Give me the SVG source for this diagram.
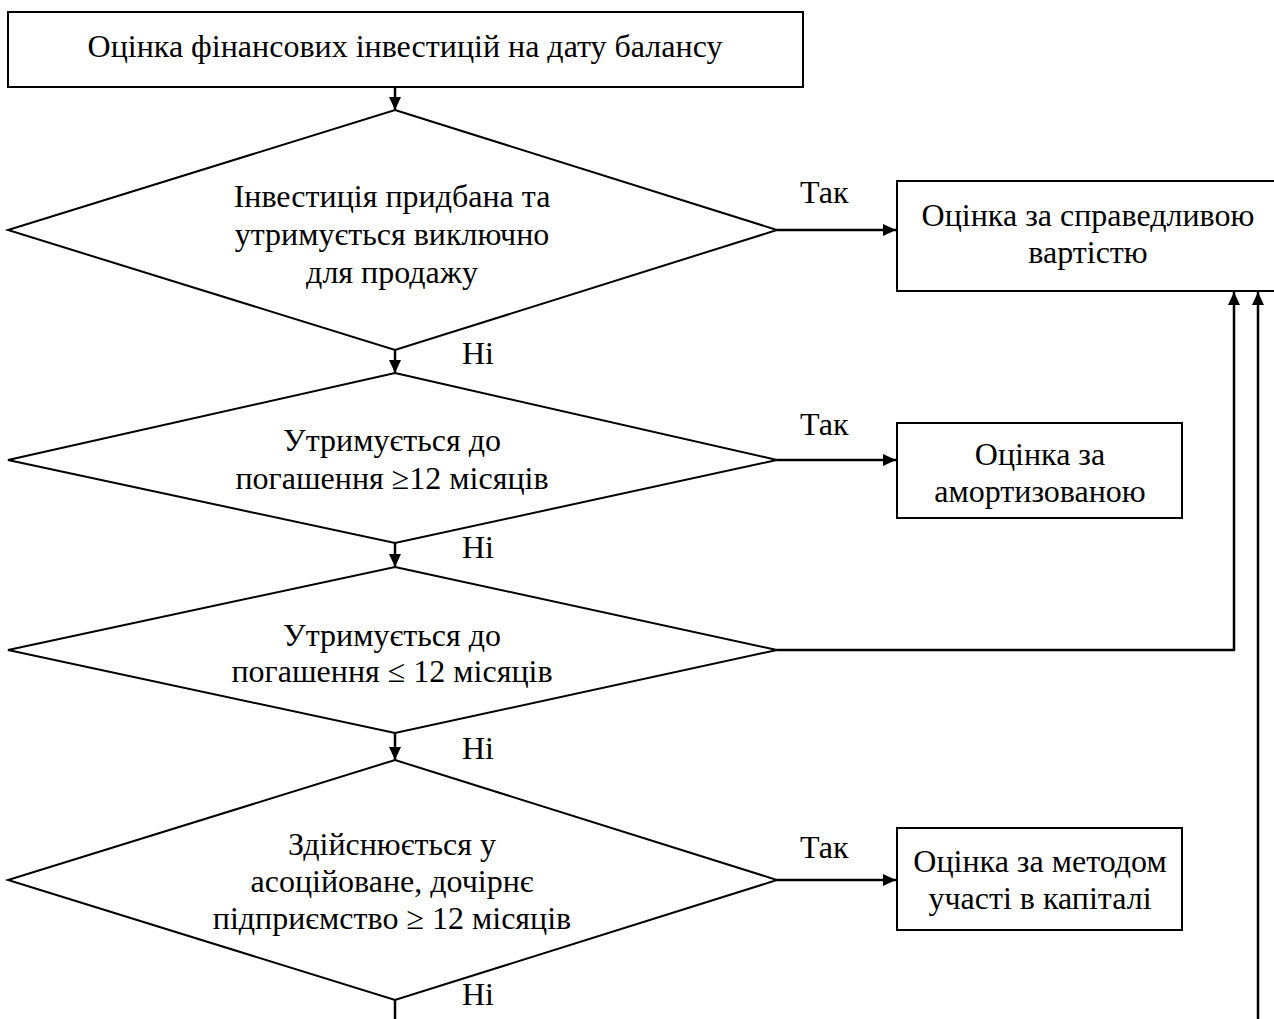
<svg xmlns="http://www.w3.org/2000/svg" width="1274" height="1019" viewBox="0 0 1274 1019">
<defs>
<marker id="ah" viewBox="0 0 13 12" refX="13" refY="6" markerWidth="13" markerHeight="12" markerUnits="userSpaceOnUse" orient="auto">
<path d="M0,0 L13,6 L0,12 Z" fill="#000"/>
</marker>
<style>
.box{fill:#fff;stroke:#000;stroke-width:2}
.dia{fill:#fff;stroke:#000;stroke-width:2}
.t{font-family:"Liberation Serif","Times New Roman",serif;font-size:32px;fill:#000;text-anchor:middle}
.lb{font-family:"Liberation Serif","Times New Roman",serif;font-size:32px;fill:#000}
.c{fill:none;stroke:#000;stroke-width:2.5}
</style>
</defs>
<rect width="1274" height="1019" fill="#fff"/>
<g id="connectors">
<line class="c" x1="395" y1="87" x2="395" y2="110" marker-end="url(#ah)"/>
<line class="c" x1="395" y1="350" x2="395" y2="373" marker-end="url(#ah)"/>
<line class="c" x1="395" y1="543" x2="395" y2="567" marker-end="url(#ah)"/>
<line class="c" x1="395" y1="733" x2="395" y2="760" marker-end="url(#ah)"/>
<line class="c" x1="395" y1="1000" x2="395" y2="1019"/>
<line class="c" x1="777" y1="230" x2="896" y2="230" marker-end="url(#ah)"/>
<line class="c" x1="777" y1="460" x2="896" y2="460" marker-end="url(#ah)"/>
<line class="c" x1="777" y1="880" x2="896" y2="880" marker-end="url(#ah)"/>
<polyline class="c" points="777,650 1234,650 1234,292" marker-end="url(#ah)"/>
<line class="c" x1="1258" y1="1019" x2="1258" y2="292" marker-end="url(#ah)"/>
<text class="lb" x="800" y="203">Так</text>
<text class="lb" x="800" y="435">Так</text>
<text class="lb" x="800" y="858">Так</text>
<text class="lb" x="462" y="364">Ні</text>
<text class="lb" x="462" y="558">Ні</text>
<text class="lb" x="462" y="759">Ні</text>
<text class="lb" x="462" y="1005">Ні</text>
</g>
<g id="start">
<rect class="box" x="8" y="12" width="795" height="75"/>
<text class="t" x="405" y="57">Оцінка фінансових інвестицій на дату балансу</text>
</g>
<g id="d1">
<polygon class="dia" points="395,110 777,230 395,350 8,230"/>
<text class="t" x="392" y="207">Інвестиція придбана та</text>
<text class="t" x="392" y="245">утримується виключно</text>
<text class="t" x="392" y="283">для продажу</text>
</g>
<g id="fair">
<rect class="box" x="897" y="181" width="385" height="110"/>
<text class="t" x="1088" y="226">Оцінка за справедливою</text>
<text class="t" x="1088" y="263">вартістю</text>
</g>
<g id="d2">
<polygon class="dia" points="395,373 777,460 395,543 8,460"/>
<text class="t" x="392" y="451">Утримується до</text>
<text class="t" x="392" y="489">погашення ≥12 місяців</text>
</g>
<g id="amort">
<rect class="box" x="897" y="423" width="285" height="95"/>
<text class="t" x="1040" y="465">Оцінка за</text>
<text class="t" x="1040" y="502">амортизованою</text>
</g>
<g id="d3">
<polygon class="dia" points="395,567 777,650 395,733 8,650"/>
<text class="t" x="392" y="646">Утримується до</text>
<text class="t" x="392" y="682">погашення ≤ 12 місяців</text>
</g>
<g id="d4">
<polygon class="dia" points="395,760 777,880 395,1000 8,880"/>
<text class="t" x="392" y="855">Здійснюється у</text>
<text class="t" x="392" y="892">асоційоване, дочірнє</text>
<text class="t" x="392" y="929">підприємство ≥ 12 місяців</text>
</g>
<g id="equity">
<rect class="box" x="897" y="828" width="285" height="102"/>
<text class="t" x="1040" y="872">Оцінка за методом</text>
<text class="t" x="1040" y="909">участі в капіталі</text>
</g>
</svg>
